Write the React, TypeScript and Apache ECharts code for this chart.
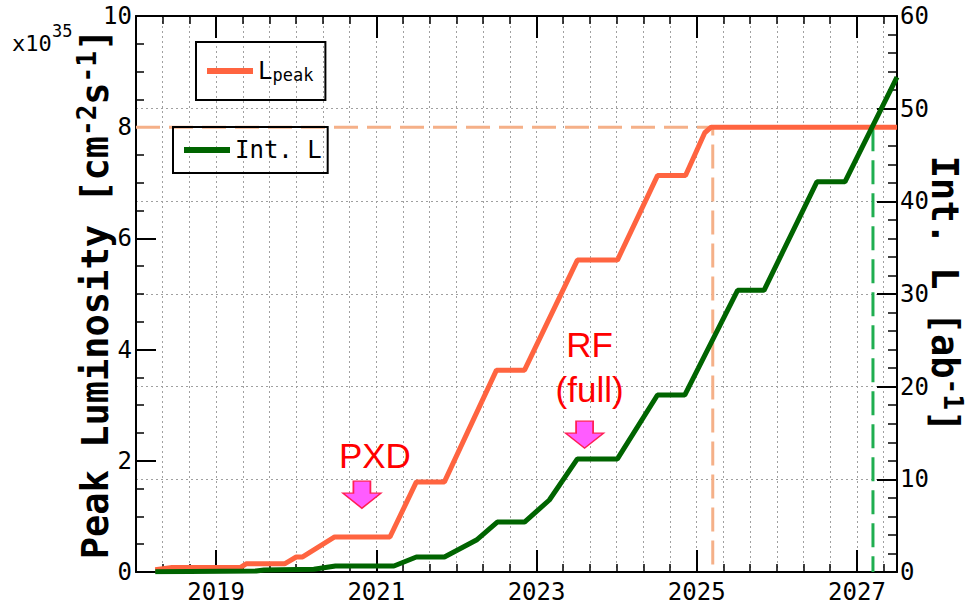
import React, { useEffect, useRef } from 'react';
import * as echarts from 'echarts';

// Peak luminosity (x10^35 cm^-2 s^-1) against calendar year
const lpeakYears = [2018.24, 2018.45, 2019.3, 2019.38, 2019.86, 2020.0, 2020.08, 2020.48, 2021.17, 2021.5, 2021.85, 2022.5, 2022.85, 2023.51, 2024.01, 2024.51, 2024.86, 2025.1, 2025.18, 2027.5];
const lpeakValues = [0.04, 0.08, 0.08, 0.15, 0.15, 0.27, 0.27, 0.63, 0.63, 1.62, 1.62, 3.63, 3.63, 5.61, 5.61, 7.13, 7.13, 7.9, 8.0, 8.0];

// Integrated luminosity (ab^-1) against calendar year
const intYears = [2018.24, 2019.5, 2019.6, 2020.22, 2020.49, 2021.22, 2021.5, 2021.85, 2022.25, 2022.51, 2022.85, 2023.16, 2023.51, 2024.01, 2024.51, 2024.85, 2025.51, 2025.84, 2026.5, 2026.85, 2027.5];
const intValues = [0.03, 0.1, 0.22, 0.3, 0.65, 0.65, 1.62, 1.62, 3.45, 5.39, 5.39, 7.77, 12.2, 12.2, 19.1, 19.1, 30.4, 30.4, 42.1, 42.1, 53.4];

// Reference markers: design peak luminosity, the year it is reached, and the year of ~50 ab^-1
const designLpeak = 8;
const designReachedYear = 2025.2;
const fiftyInvAbYear = 2027.2;

// Upgrade annotations [year, L_peak level of the arrow]
const pxdArrow = [2020.82, 1.39];
const rfArrow = [2023.6, 2.47];

const majorYears = [2019, 2021, 2023, 2025, 2027];
const X_MIN = 2018;
const X_MAX = 2027.5;

const MONO = '"DejaVu Sans Mono", monospace';
const ORANGE = '#ff6440';
const GREEN = '#006400';

const pairs = (xs: number[], ys: number[]) => xs.map((x, i) => [x, ys[i]]);

const dotted = { color: '#a0a0a0', width: 1, type: [2, 3] as number[] };
const tickLabel = { color: '#000', fontFamily: MONO, fontSize: 24 };

const titleRich = {
  b: { fontFamily: MONO, fontWeight: 'bold', fontSize: 37, lineHeight: 40, verticalAlign: 'bottom', color: '#000' },
  sup: { fontFamily: MONO, fontWeight: 'bold', fontSize: 26, lineHeight: 26, padding: [0, 0, 18, 0], verticalAlign: 'top', color: '#000' },
};

const arrowPath = 'path://M10.5,0L27.5,0L27.5,12L38,12L19,27L0,12L10.5,12Z';

function buildOption() {
  const minorX = (position: 'top' | 'bottom', grid: boolean) => ({
    type: 'value',
    min: X_MIN,
    max: X_MAX,
    interval: 1 / 3,
    position,
    axisLine: { show: true, onZero: false, lineStyle: { color: '#000', width: 2 } },
    axisTick: { show: true, inside: true, length: 8, lineStyle: { color: '#000', width: 1.5 } },
    axisLabel: { show: false },
    splitLine: { show: grid, lineStyle: dotted },
  });
  const majorX = (position: 'top' | 'bottom', labels: boolean) => ({
    type: 'value',
    min: X_MIN,
    max: X_MAX,
    position,
    axisLine: { show: false, onZero: false },
    axisTick: { show: true, inside: true, length: 22, customValues: majorYears, lineStyle: { color: '#000', width: 2 } },
    axisLabel: {
      show: labels,
      customValues: majorYears,
      margin: 8,
      formatter: (v: number) => String(Math.round(v)),
      ...tickLabel,
    },
    splitLine: { show: false },
  });

  return {
    animation: false,
    backgroundColor: '#fff',
    grid: { left: 136, top: 16, right: 75, bottom: 35, containLabel: false, outerBoundsMode: 'none' },
    xAxis: [minorX('bottom', true), majorX('bottom', true), minorX('top', false), majorX('top', false)],
    yAxis: [
      {
        type: 'value',
        min: 0,
        max: 10,
        interval: 2,
        position: 'left',
        axisLine: { show: true, onZero: false, lineStyle: { color: '#000', width: 2 } },
        axisTick: { show: true, inside: true, length: 20, lineStyle: { color: '#000', width: 2 } },
        minorTick: { show: true, splitNumber: 4, length: 8, lineStyle: { color: '#000', width: 1.5 } },
        axisLabel: { margin: 4, ...tickLabel },
        splitLine: { show: false },
        name: '{b|Peak Luminosity [cm}{sup|-2}{b|s}{sup|-1}{b|]}',
        nameLocation: 'middle',
        nameRotate: 90,
        nameGap: 22,
        nameMoveOverlap: false,
        nameTextStyle: { fontFamily: MONO, fontSize: 37, fontWeight: 'bold', color: '#000', rich: titleRich },
      },
      {
        type: 'value',
        min: 0,
        max: 60,
        interval: 10,
        position: 'right',
        axisLine: { show: true, onZero: false, lineStyle: { color: '#000', width: 2 } },
        axisTick: { show: true, inside: true, length: 20, lineStyle: { color: '#000', width: 2 } },
        minorTick: { show: true, splitNumber: 5, length: 9, lineStyle: { color: '#000', width: 1.5 } },
        axisLabel: { margin: 3, ...tickLabel },
        splitLine: { show: true, lineStyle: dotted },
        name: '{b|Int. L [ab}{sup|-1}{b|]}',
        nameLocation: 'middle',
        nameRotate: -90,
        nameGap: 29,
        nameMoveOverlap: false,
        nameTextStyle: { fontFamily: MONO, fontSize: 37, fontWeight: 'bold', color: '#000', rich: titleRich },
      },
    ],
    legend: [
      {
        data: ['Lpeak'],
        selectedMode: false,
        left: 196,
        top: 42,
        icon: 'rect',
        itemWidth: 46,
        itemHeight: 6,
        padding: [17, 12, 17, 11],
        borderColor: '#000',
        borderWidth: 2,
        formatter: () => '{a|L}{s|peak}',
        textStyle: {
          color: '#000',
          fontFamily: MONO,
          rich: {
            a: { fontFamily: MONO, fontSize: 24, lineHeight: 24, verticalAlign: 'bottom', color: '#000' },
            s: { fontFamily: MONO, fontSize: 17, lineHeight: 17, verticalAlign: 'bottom', color: '#000' },
          },
        },
      },
      {
        data: ['Int. L'],
        selectedMode: false,
        left: 173,
        top: 127,
        icon: 'rect',
        itemWidth: 46,
        itemHeight: 6,
        padding: [11, 6, 11, 11],
        borderColor: '#000',
        borderWidth: 2,
        textStyle: { color: '#000', fontFamily: MONO, fontSize: 24, lineHeight: 24 },
      },
    ],
    graphic: [
      { type: 'text', x: 12, y: 43, style: { text: 'x10', fontFamily: MONO, fontSize: 22, fill: '#000', verticalAlign: 'middle', align: 'left' } },
      { type: 'text', x: 52, y: 31, style: { text: '35', fontFamily: MONO, fontSize: 17, fill: '#000', verticalAlign: 'middle', align: 'left' } },
    ],
    series: [
      {
        name: 'designRef',
        type: 'line',
        xAxisIndex: 0,
        yAxisIndex: 0,
        data: [[X_MIN, designLpeak], [designReachedYear, designLpeak], [designReachedYear, 0]],
        showSymbol: false,
        silent: true,
        lineStyle: { color: '#f5b088', width: 3, type: [24, 9] },
        z: 1,
      },
      {
        name: 'intRef',
        type: 'line',
        xAxisIndex: 0,
        yAxisIndex: 0,
        data: [[fiftyInvAbYear, designLpeak], [fiftyInvAbYear, 0]],
        showSymbol: false,
        silent: true,
        lineStyle: { color: '#1fae50', width: 3, type: [24, 9] },
        z: 1,
      },
      {
        name: 'Lpeak',
        type: 'line',
        xAxisIndex: 0,
        yAxisIndex: 0,
        color: ORANGE,
        data: pairs(lpeakYears, lpeakValues),
        showSymbol: false,
        lineStyle: { color: ORANGE, width: 5 },
        markPoint: {
          symbol: arrowPath,
          symbolSize: [38, 27],
          itemStyle: { color: '#ff5cff', borderColor: '#ff1f55', borderWidth: 1.5 },
          label: {
            show: true,
            position: 'top',
            color: '#ff0000',
            fontFamily: '"Liberation Sans", Arial, sans-serif',
            fontSize: 35,
          },
          data: [
            { coord: pxdArrow, label: { formatter: 'PXD', distance: 8, offset: [13, 0], lineHeight: 35 } },
            { coord: rfArrow, label: { formatter: 'RF\n(full)', distance: 9, offset: [5, 0], lineHeight: 45 } },
          ],
        },
        z: 3,
      },
      {
        name: 'Int. L',
        type: 'line',
        xAxisIndex: 0,
        yAxisIndex: 1,
        color: GREEN,
        data: pairs(intYears, intValues),
        showSymbol: false,
        lineStyle: { color: GREEN, width: 5 },
        z: 4,
      },
    ],
  };
}

export default function App() {
  const ref = useRef<HTMLDivElement>(null);
  useEffect(() => {
    if (!ref.current) return;
    const chart = echarts.init(ref.current, null, { renderer: 'svg' });
    chart.setOption(buildOption() as any);
    return () => chart.dispose();
  }, []);
  return <div ref={ref} style={{ position: 'fixed', left: 0, top: 0, width: 972, height: 607 }} />;
}
